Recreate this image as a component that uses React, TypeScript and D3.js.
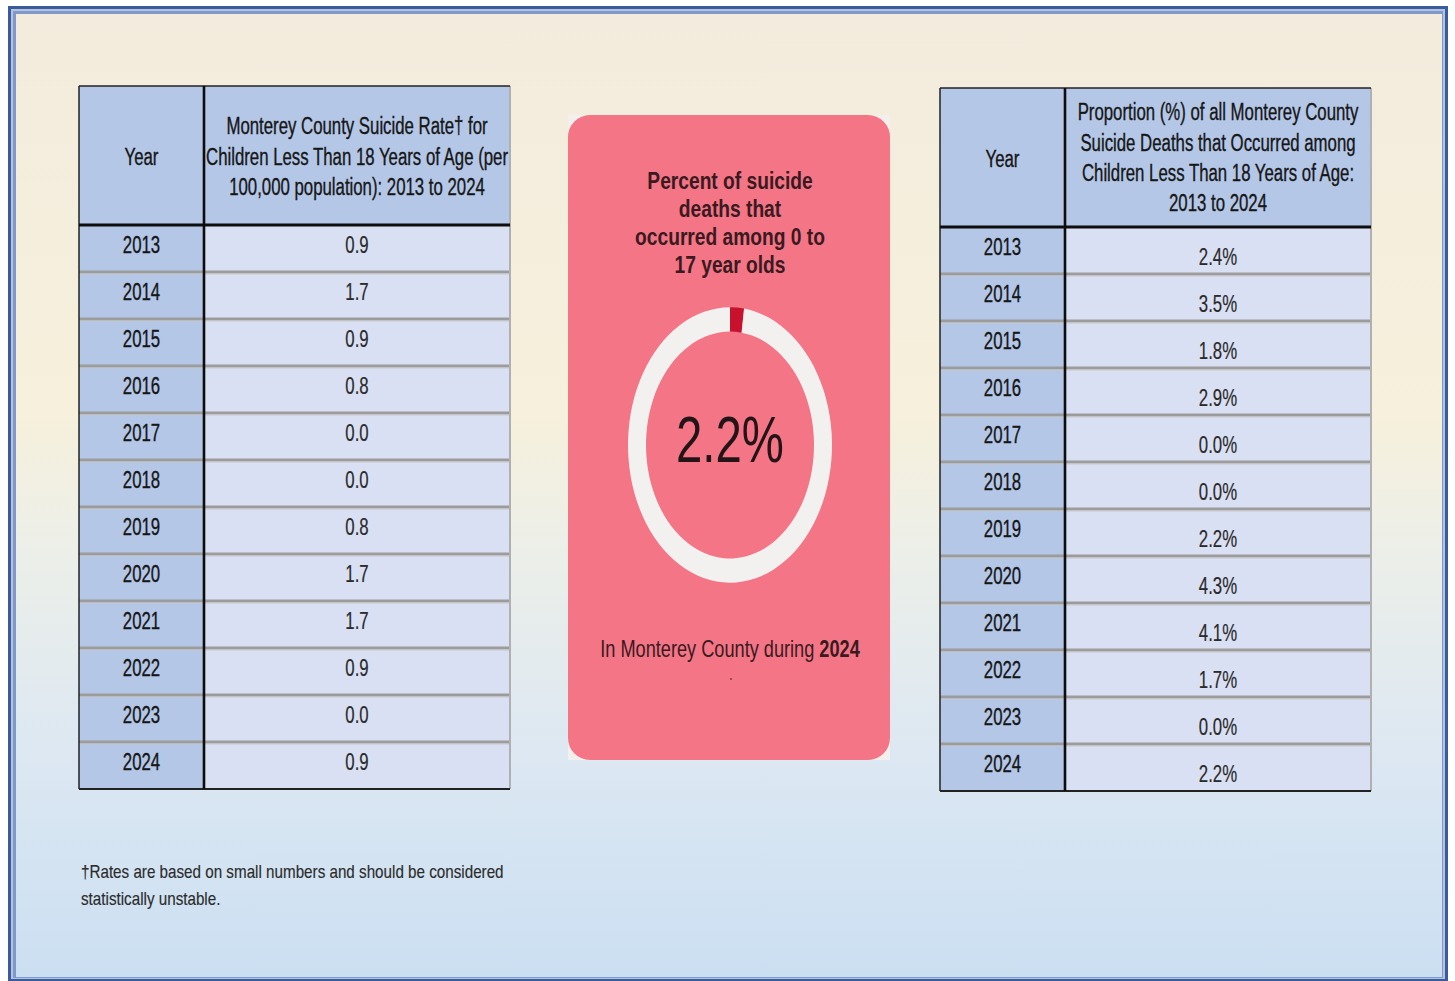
import React from "react";
import * as d3 from "d3";

const years = ["2013","2014","2015","2016","2017","2018","2019","2020","2021","2022","2023","2024"];
const ratesPer100k = [0.9, 1.7, 0.9, 0.8, 0.0, 0.0, 0.8, 1.7, 1.7, 0.9, 0.0, 0.9];
const proportionPct = [2.4, 3.5, 1.8, 2.9, 0.0, 0.0, 2.2, 4.3, 4.1, 1.7, 0.0, 2.2];
const leftHeaderLines = [
  "Monterey County Suicide Rate\u2020 for",
  "Children Less Than 18 Years of Age (per",
  "100,000 population): 2013 to 2024",
];
const rightHeaderLines = [
  "Proportion (%) of all Monterey County",
  "Suicide Deaths that Occurred among",
  "Children Less Than 18 Years of Age:",
  "2013 to 2024",
];
const cardTitleLines = ["Percent of suicide", "deaths that", "occurred among 0 to", "17 year olds"];
const donutValue = 2.2;
const donutYear = "2024";
const footnoteLines = [
  "\u2020Rates are based on small numbers and should be considered",
  "statistically unstable.",
];

const SANS = "'Liberation Sans', Arial, sans-serif";
const TSX = 0.73;

type TProps = {
  x: number; y: number; size: number; sx?: number; anchor?: string; weight?: any;
  fill?: string; family?: string; stroke?: number; children: React.ReactNode;
};
const T = ({ x, y, size, sx = 1, anchor = "middle", weight = "normal", fill = "#161616", family = SANS, stroke = 0, children }: TProps) => (
  <text
    transform={`translate(${x},${y}) scale(${sx},1)`}
    textAnchor={anchor as any}
    fontSize={size}
    fontWeight={weight}
    fill={fill}
    stroke={stroke ? fill : "none"}
    strokeWidth={stroke}
    fontFamily={family}
  >
    {children}
  </text>
);

type TableProps = {
  x0: number; x1: number; x2: number; top: number; headerBottom: number; bottom: number;
  header: string[]; headerY: number[]; yearHeaderY: number; values: string[];
  yearOffset: number; valueOffset: number;
};

const DataTable = ({ x0, x1, x2, top, headerBottom, bottom, header, headerY, yearHeaderY, values, yearOffset, valueOffset }: TableProps) => {
  const y = d3.scaleBand<string>().domain(years).range([headerBottom, bottom]).paddingInner(0).paddingOuter(0);
  const hdr = "#b4c7e7";
  const cell = "#dae0f3";
  const yearCx = (x0 + x1) / 2;
  const valCx = (x1 + x2) / 2;
  return (
    <g>
      <rect x={x0} y={top} width={x1 - x0} height={bottom - top} fill={hdr} />
      <rect x={x1} y={top} width={x2 - x1} height={headerBottom - top} fill={hdr} />
      <rect x={x1} y={headerBottom} width={x2 - x1} height={bottom - headerBottom} fill={cell} />
      {years.slice(1).map((yr) => (
        <g key={yr}>
          <line x1={x0} x2={x2} y1={y(yr)!} y2={y(yr)!} stroke="#9c9c9c" strokeWidth={3.2} />
          <line x1={x0} x2={x2} y1={y(yr)! + 2} y2={y(yr)! + 2} stroke="#c8c8c8" strokeWidth={1} />
        </g>
      ))}
      <line x1={x2} x2={x2} y1={top} y2={bottom} stroke="#b0b0b0" strokeWidth={2} />
      <line x1={x0} x2={x2} y1={top} y2={top} stroke="#222" strokeWidth={1.5} />
      <line x1={x0} x2={x2} y1={bottom} y2={bottom} stroke="#222" strokeWidth={2} />
      <line x1={x0} x2={x0} y1={top} y2={bottom} stroke="#222" strokeWidth={1.5} />
      <line x1={x1} x2={x1} y1={top} y2={bottom} stroke="#0d0d0d" strokeWidth={2.6} />
      <line x1={x0} x2={x2} y1={headerBottom} y2={headerBottom} stroke="#0d0d0d" strokeWidth={3.2} />
      <T x={yearCx} y={yearHeaderY} size={23} sx={TSX} stroke={0.35}>Year</T>
      {header.map((ln, i) => (
        <T key={i} x={valCx} y={headerY[i]} size={23} sx={TSX} stroke={0.35}>{ln}</T>
      ))}
      {years.map((yr, i) => (
        <g key={yr}>
          <T x={yearCx} y={y(yr)! + yearOffset} size={23} sx={TSX} stroke={0.35}>{yr}</T>
          <T x={valCx} y={y(yr)! + valueOffset} size={23} sx={TSX} fill="#2a2a2a" stroke={0.2}>{values[i]}</T>
        </g>
      ))}
    </g>
  );
};

export default function App() {
  const W = 1455, H = 981;
  const fmt1 = d3.format(".1f");
  const rateLabels = ratesPer100k.map((v) => fmt1(v));
  const propLabels = proportionPct.map((v) => fmt1(v) + "%");

  const cx = 730, cy = 445;
  const rOuter = 102, rInner = 84, vScale = 1.35;
  const pie = d3.pie<number>().sort(null).value((d) => d);
  const arcs = pie([donutValue, 100 - donutValue]);
  const arcGen = d3.arc<d3.PieArcDatum<number>>().innerRadius(rInner).outerRadius(rOuter);
  const donutColors = ["#c8112d", "#f3f1f0"];

  const cardX = 568, cardY = 115, cardW = 322, cardH = 645;
  const cardText = "#3a1a20";

  return (
    <div style={{ position: "absolute", left: 0, top: 0 }}>
      <svg width={W} height={H} style={{ display: "block" }}>
        <defs>
          <linearGradient id="bg" x1="0" y1="0" x2="0" y2="1">
            <stop offset="0" stopColor="#f3ecde" />
            <stop offset="0.42" stopColor="#f6f0dc" />
            <stop offset="0.56" stopColor="#ecefe9" />
            <stop offset="0.76" stopColor="#dde8f2" />
            <stop offset="1" stopColor="#cbdff2" />
          </linearGradient>
        </defs>
        <rect x={0} y={0} width={W} height={H} fill="#ffffff" />
        <rect x={8} y={6} width={1440} height={975} fill="#3a5b9c" />
        <rect x={11} y={9} width={1434} height={970} fill="#b6c3de" />
        <rect x={13} y={11} width={1430} height={967} fill="#7f99c9" />
        <rect x={16} y={14} width={1426} height={963} fill="url(#bg)" />

        <DataTable
          x0={79} x1={204} x2={510} top={86} headerBottom={225} bottom={789}
          header={leftHeaderLines} headerY={[134, 165, 195]} yearHeaderY={165}
          values={rateLabels} yearOffset={28} valueOffset={28}
        />
        <DataTable
          x0={940} x1={1065} x2={1371} top={88} headerBottom={227} bottom={791}
          header={rightHeaderLines} headerY={[120, 150.5, 181, 211]} yearHeaderY={166.5}
          values={propLabels} yearOffset={27.5} valueOffset={38}
        />

        <rect x={cardX} y={cardY} width={cardW} height={cardH} fill="#f2efed" />
        <rect x={cardX} y={cardY} width={cardW} height={cardH} rx={22} ry={22} fill="#f47586" />
        {cardTitleLines.map((ln, i) => (
          <T key={i} x={730} y={189 + i * 28} size={24} sx={0.8} weight="bold" fill={cardText}>{ln}</T>
        ))}
        <g transform={`translate(${cx},${cy}) scale(1,${vScale})`}>
          {arcs.map((a, i) => (
            <path key={i} d={arcGen(a)!} fill={donutColors[i]} />
          ))}
        </g>
        <T x={cx} y={462} size={64} sx={0.74} fill="#221417">{fmt1(donutValue) + "%"}</T>
        <text
          transform={`translate(730,657) scale(0.79,1)`}
          textAnchor="middle" fontSize={23} fill={cardText} fontFamily={SANS}
        >
          In Monterey County during <tspan fontWeight="bold">{donutYear}</tspan>
        </text>
        <circle cx={731} cy={679} r={0.9} fill="#7a3a44" />

        {footnoteLines.map((ln, i) => (
          <T key={i} x={81} y={878 + i * 27} size={18} sx={0.845} anchor="start" fill="#2b2b2b" stroke={0.15}>{ln}</T>
        ))}
      </svg>
    </div>
  );
}
